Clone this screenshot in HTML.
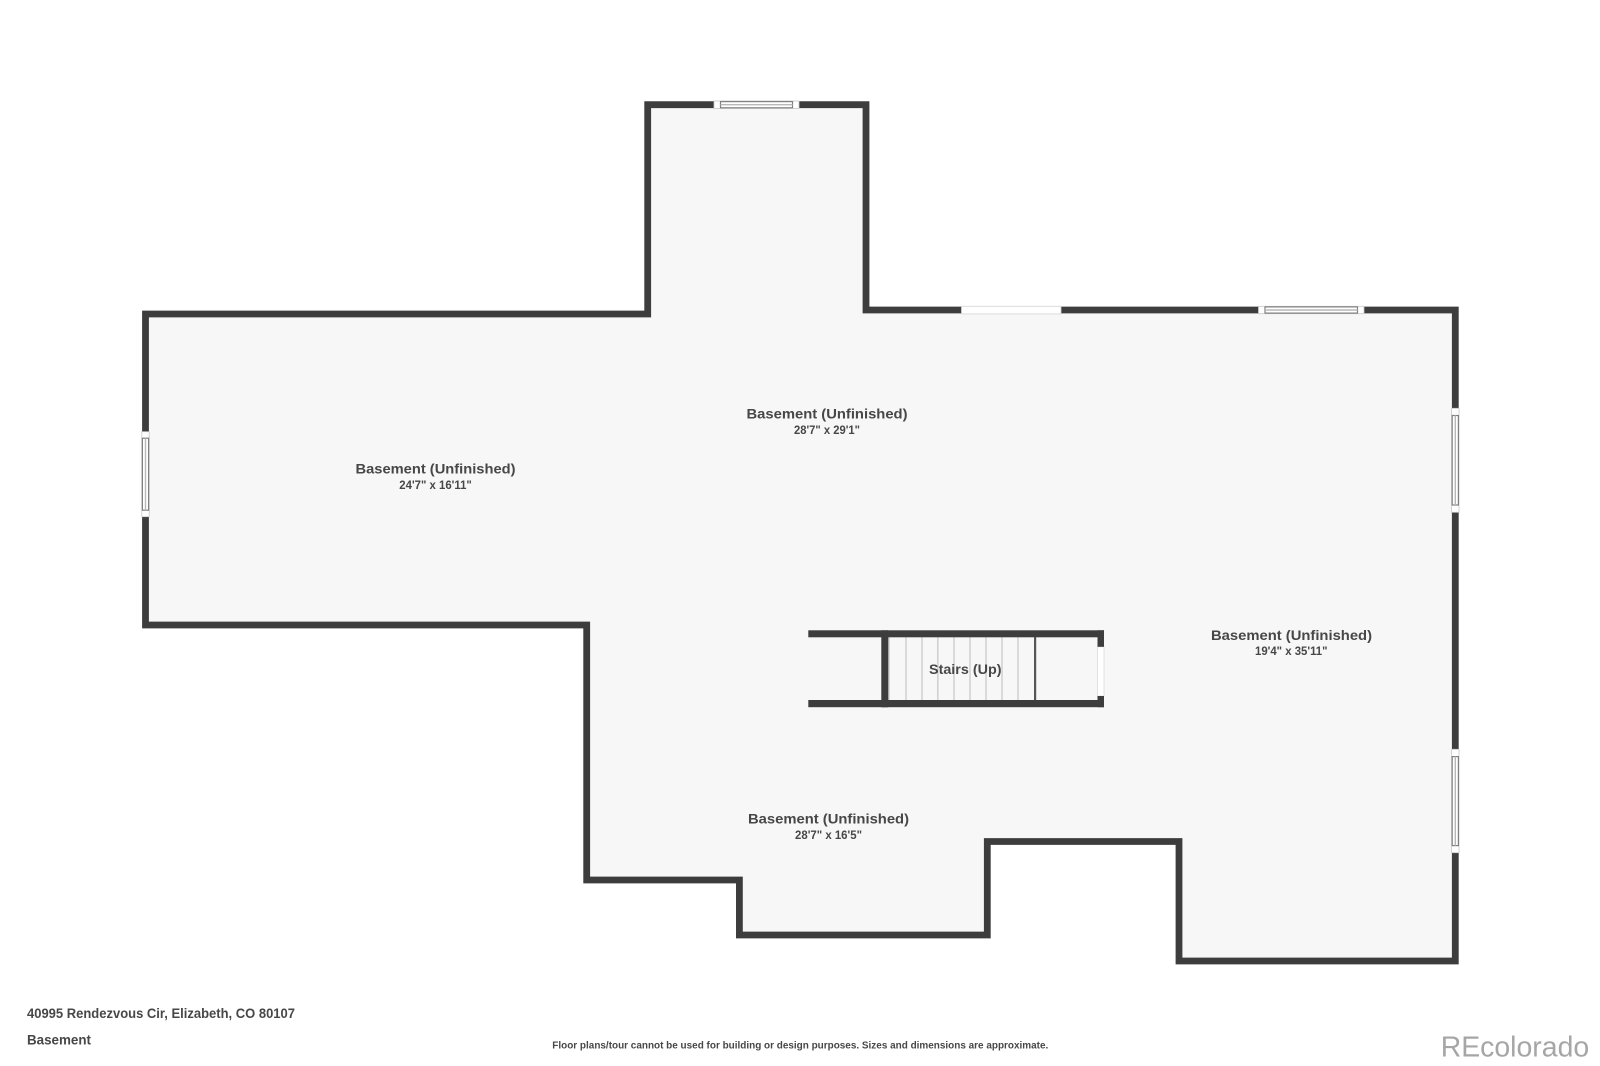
<!DOCTYPE html>
<html lang="en">
<head>
<meta charset="utf-8">
<title>Basement floor plan</title>
<style>
html,body{margin:0;padding:0;background:#fff;width:1600px;height:1066px;overflow:hidden}
svg{display:block}
text{font-family:"Liberation Sans",sans-serif;font-weight:700;fill:#474747}
.t{font-size:14px}
.s{font-size:11.5px}
.f{font-size:13.5px}
</style>
</head>
<body>
<svg width="1600" height="1066" viewBox="0 0 1600 1066" xmlns="http://www.w3.org/2000/svg">
<defs><filter id="b" x="-5%" y="-5%" width="110%" height="110%"><feGaussianBlur stdDeviation="0.35"/></filter></defs>
<rect width="1600" height="1066" fill="#fff"/>
<g filter="url(#b)">
<polygon points="145.5,314 647.7,314 647.7,104.7 866,104.7 866,310 1455.3,310 1455.3,961 1179,961 1179,841.5 987.3,841.5 987.3,935 739.4,935 739.4,880 586.7,880 586.7,625 145.5,625" fill="#f7f7f7" stroke="#3d3d3d" stroke-width="6.8" stroke-linejoin="miter"/>

<!-- top window -->
<g>
<rect x="714" y="101" width="85" height="7.4" fill="#fff" stroke="#c8c8c8" stroke-width="0.8"/>
<rect x="720.5" y="101.6" width="72" height="6.2" fill="#fff" stroke="#808080" stroke-width="1.2"/>
<line x1="720.5" y1="104.7" x2="792.5" y2="104.7" stroke="#b8b8b8" stroke-width="1.4"/>
</g>
<!-- door opening top -->
<rect x="961.5" y="306.3" width="99.5" height="7.6" fill="#fff" stroke="#d4d4d4" stroke-width="0.8"/>
<!-- top-right window -->
<g>
<rect x="1258.5" y="306.3" width="105.5" height="7.4" fill="#fff" stroke="#c8c8c8" stroke-width="0.8"/>
<rect x="1265" y="306.9" width="92.5" height="6.2" fill="#fff" stroke="#808080" stroke-width="1.2"/>
<line x1="1265" y1="310" x2="1357.5" y2="310" stroke="#b8b8b8" stroke-width="1.4"/>
</g>
<!-- left window -->
<g>
<rect x="141.8" y="431.7" width="7.4" height="85" fill="#fff" stroke="#c8c8c8" stroke-width="0.8"/>
<rect x="142.4" y="438.2" width="6.2" height="72" fill="#fff" stroke="#808080" stroke-width="1.2"/>
<line x1="145.5" y1="438.2" x2="145.5" y2="510.2" stroke="#b8b8b8" stroke-width="1.4"/>
</g>
<!-- right windows -->
<g>
<rect x="1451.6" y="408.3" width="7.4" height="104" fill="#fff" stroke="#c8c8c8" stroke-width="0.8"/>
<rect x="1452.2" y="415.5" width="6.2" height="89.5" fill="#fff" stroke="#808080" stroke-width="1.2"/>
<line x1="1455.3" y1="415.5" x2="1455.3" y2="505" stroke="#b8b8b8" stroke-width="1.4"/>
</g>
<g>
<rect x="1451.6" y="749.3" width="7.4" height="103.4" fill="#fff" stroke="#c8c8c8" stroke-width="0.8"/>
<rect x="1452.2" y="756.6" width="6.2" height="89" fill="#fff" stroke="#808080" stroke-width="1.2"/>
<line x1="1455.3" y1="756.6" x2="1455.3" y2="845.6" stroke="#b8b8b8" stroke-width="1.4"/>
</g>

<!-- stairs -->
<g stroke="#d2d2d2" stroke-width="1.6">
<line x1="889" y1="637" x2="889" y2="700"/>
<line x1="906" y1="637" x2="906" y2="700"/>
<line x1="922" y1="637" x2="922" y2="700"/>
<line x1="937.8" y1="637" x2="937.8" y2="700"/>
<line x1="954" y1="637" x2="954" y2="700"/>
<line x1="970" y1="637" x2="970" y2="700"/>
<line x1="986" y1="637" x2="986" y2="700"/>
<line x1="1002" y1="637" x2="1002" y2="700"/>
<line x1="1018" y1="637" x2="1018" y2="700"/>
</g>
<rect x="1034" y="637" width="2.2" height="63" fill="#555"/>
<rect x="808.3" y="630.3" width="295.7" height="7" fill="#3d3d3d"/>
<rect x="808.3" y="700" width="295.7" height="7.2" fill="#3d3d3d"/>
<rect x="881.3" y="630.3" width="7" height="77" fill="#3d3d3d"/>
<rect x="1097.5" y="646.8" width="6.5" height="49.2" fill="#fff" stroke="#dcdcdc" stroke-width="0.8"/>
<rect x="1097.5" y="630.3" width="6.5" height="16.5" fill="#3d3d3d"/>
<rect x="1097.5" y="696" width="6.5" height="11.2" fill="#3d3d3d"/>
</g>

<!-- labels -->
<g filter="url(#b)">
<text class="t" x="355.5" y="473.5" textLength="160" lengthAdjust="spacingAndGlyphs">Basement (Unfinished)</text>
<text class="s" x="399.3" y="488.8" textLength="72.5" lengthAdjust="spacingAndGlyphs">24'7" x 16'11"</text>

<text class="t" x="746.5" y="418.5" textLength="161" lengthAdjust="spacingAndGlyphs">Basement (Unfinished)</text>
<text class="s" x="794" y="433.8" textLength="66" lengthAdjust="spacingAndGlyphs">28'7" x 29'1"</text>

<text class="t" x="1211" y="640" textLength="161" lengthAdjust="spacingAndGlyphs">Basement (Unfinished)</text>
<text class="s" x="1255" y="655.2" textLength="72.5" lengthAdjust="spacingAndGlyphs">19'4" x 35'11"</text>

<text class="t" x="748" y="823.5" textLength="161" lengthAdjust="spacingAndGlyphs">Basement (Unfinished)</text>
<text class="s" x="795" y="839" textLength="67" lengthAdjust="spacingAndGlyphs">28'7" x 16'5"</text>

<text class="t" x="929" y="674" textLength="72.5" lengthAdjust="spacingAndGlyphs">Stairs (Up)</text>

<!-- footer -->
<text class="f" x="27" y="1018" textLength="268" lengthAdjust="spacingAndGlyphs">40995 Rendezvous Cir, Elizabeth, CO 80107</text>
<text class="f" x="27" y="1044.7" textLength="64" lengthAdjust="spacingAndGlyphs">Basement</text>
<text x="552.3" y="1048.7" font-size="10" textLength="496" lengthAdjust="spacingAndGlyphs">Floor plans/tour cannot be used for building or design purposes. Sizes and dimensions are approximate.</text>
<text x="1440.7" y="1056.7" font-size="29" textLength="148.5" lengthAdjust="spacingAndGlyphs" style="font-weight:400;fill:#a6a6a6">REcolorado</text>
</g>
</svg>
</body>
</html>
